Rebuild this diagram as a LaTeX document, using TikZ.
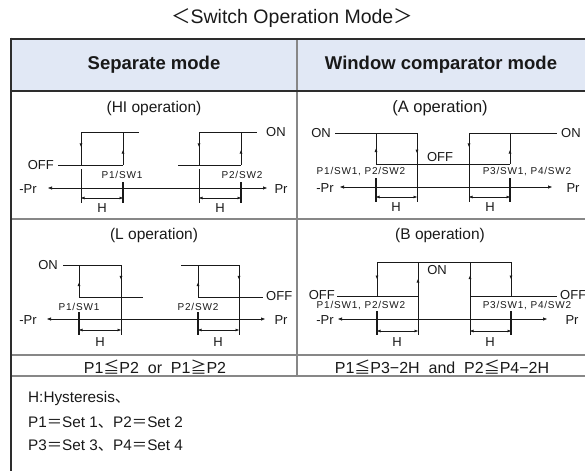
\documentclass[tikz,border=0pt]{standalone}
\usepackage{fontspec}
\setmainfont{Liberation Sans}
\newfontfamily\cjk{Noto Sans CJK KR}
\newfontfamily\lsfont[LetterSpace=8]{Liberation Sans}
\usetikzlibrary{arrows.meta,decorations.markings}
\definecolor{hdr}{RGB}{225,232,245}
\definecolor{ink}{RGB}{25,25,25}
\definecolor{gridc}{RGB}{135,135,135}
\definecolor{framec}{RGB}{45,45,45}
\newcommand{\myfs}[1]{\fontsize{#1}{#1}\selectfont}
\tikzset{
  wire/.style={draw=ink, line width=0.85pt},
  thinl/.style={draw=ink, line width=0.6pt},
  tickl/.style={draw=ink, line width=1.4pt},
  marr/.style={postaction={decorate},decoration={markings,mark=at position #1 with {\arrow[ink]{Triangle[length=3.5pt,width=2.6pt]}}}},
  dimar/.style={draw=ink, line width=0.6pt, {Triangle[length=3.5pt,width=2.6pt]}-{Triangle[length=3.5pt,width=2.6pt]}},
  axisar/.style={draw=ink, line width=0.7pt, {Triangle[length=4pt,width=3pt]}-{Triangle[length=4pt,width=3pt]}},
  lbl/.style={inner sep=0pt, text=ink, font=\myfs{13}},
  plbl/.style={inner sep=0pt, text=ink, font=\lsfont\myfs{10}},
  ttl/.style={inner sep=0pt, text=ink, font=\myfs{15.5}},
  hd/.style={inner sep=0pt, text=ink, font=\bfseries\myfs{18.5}},
  cond/.style={inner sep=0pt, text=ink, font=\myfs{16}, anchor=base},
  note/.style={inner sep=0pt, text=ink, font=\myfs{15.3}, anchor=base west},
  gridl/.style={draw=gridc, line width=1.5pt},
  framel/.style={draw=framec, line width=2.6pt}
}
\begin{document}
\begin{tikzpicture}[x=1pt,y=-1pt]
\useasboundingbox (0,0) rectangle (585,471);
% title
\node[inner sep=0pt, text=ink, font=\myfs{19.5}] (title) at (292,18) {{\cjk ＜}Switch Operation Mode{\cjk ＞}};
% header
\fill[hdr] (11,39) rectangle (585,91);
\node[hd] (h1) at (154,65) {Separate mode};
\node[hd] (h2) at (441,65) {Window comparator mode};
% grid
\draw[gridl] (297,39) -- (297,376);
\draw[gridl] (11,219) -- (585,219);
\draw[gridl] (11,355) -- (585,355);
\draw[gridl] (11,376) -- (585,376);
\draw[framel] (11,39) -- (585,39);
\draw[framel] (11,91) -- (585,91);
\draw[framel] (11,37.7) -- (11,471);

% ---------- HI operation ----------
\node[ttl] (hit) at (154,108) {(HI operation)};
\draw[wire] (58,165) -- (123,165);
\draw[wire] (81,132) -- (139,132);
\draw[wire,marr=0.45] (81,132) -- (81,165);
\draw[wire,marr=0.45] (123,165) -- (123,132);
\draw[wire] (178,165) -- (241,165);
\draw[wire] (199,132) -- (257,132);
\draw[wire,marr=0.45] (199,132) -- (199,165);
\draw[wire,marr=0.45] (241,165) -- (241,132);
\draw[thinl] (81,169) -- (81,203);
\draw[tickl] (123,182) -- (123,203);
\draw[thinl] (199,169) -- (199,203);
\draw[tickl] (241,182) -- (241,203);
\draw[axisar] (48,188) -- (267,188);
\draw[dimar] (81,198) -- (123,198);
\draw[dimar] (199,198) -- (241,198);
\node[lbl,anchor=east] (hioff) at (54,165) {OFF};
\node[lbl,anchor=west] (hion) at (266,132) {ON};
\node[plbl] (hip1) at (122,175) {P1/SW1};
\node[plbl] (hip2) at (242,175) {P2/SW2};
\node[lbl] (hih1) at (102,208) {H};
\node[lbl] (hih2) at (220,208) {H};
\node[lbl] (himp) at (28,189) {-Pr};
\node[lbl] (hipr) at (281,189) {Pr};

% ---------- A operation ----------
\node[ttl,font=\myfs{16.5}] (at) at (440,108) {(A operation)};
\draw[wire] (335,133) -- (417,133);
\draw[wire] (376,164) -- (510,164);
\draw[wire] (469,133) -- (557,133);
\draw[wire,marr=0.5] (376,164) -- (376,133);
\draw[wire,marr=0.65] (417,133) -- (417,164);
\draw[wire,marr=0.45] (469,133) -- (469,164);
\draw[wire,marr=0.45] (510,164) -- (510,133);
\draw[tickl] (376,178) -- (376,202);
\draw[thinl] (417,164) -- (417,202);
\draw[thinl] (469,164) -- (469,202);
\draw[tickl] (510,178) -- (510,202);
\draw[axisar] (340,187) -- (552,187);
\draw[dimar] (376,197) -- (417,197);
\draw[dimar] (469,197) -- (510,197);
\node[lbl,anchor=east] (aon1) at (331,133) {ON};
\node[lbl,anchor=west] (aon2) at (561,133) {ON};
\node[lbl] (aoff) at (440,157) {OFF};
\node[plbl] (ap1) at (361,172) {P1/SW1, P2/SW2};
\node[plbl] (ap2) at (527,172) {P3/SW1, P4/SW2};
\node[lbl] (ah1) at (396,207) {H};
\node[lbl] (ah2) at (490,207) {H};
\node[lbl] (amp) at (325,188) {-Pr};
\node[lbl] (apr) at (573,188) {Pr};

% ---------- L operation ----------
\node[ttl] (lt) at (154,235) {(L operation)};
\draw[wire] (63,265) -- (121,265);
\draw[wire] (79,297) -- (143,297);
\draw[wire,marr=0.45] (79,297) -- (79,265);
\draw[wire,marr=0.45] (121,265) -- (121,297);
\draw[wire] (181,265) -- (239,265);
\draw[wire] (198,297) -- (263,297);
\draw[wire,marr=0.45] (198,297) -- (198,265);
\draw[wire,marr=0.45] (239,265) -- (239,297);
\draw[tickl] (79,312) -- (79,335);
\draw[thinl] (121,297) -- (121,335);
\draw[tickl] (198,312) -- (198,335);
\draw[thinl] (239,297) -- (239,335);
\draw[axisar] (47,319) -- (265,319);
\draw[dimar] (79,330) -- (121,330);
\draw[dimar] (198,330) -- (239,330);
\node[lbl,anchor=east] (lon) at (58,265) {ON};
\node[lbl,anchor=west] (loff) at (266,296) {OFF};
\node[plbl] (lp1) at (79,307) {P1/SW1};
\node[plbl] (lp2) at (198,307) {P2/SW2};
\node[lbl] (lh1) at (100,342) {H};
\node[lbl] (lh2) at (218,342) {H};
\node[lbl] (lmp) at (28,320) {-Pr};
\node[lbl] (lpr) at (281,320) {Pr};

% ---------- B operation ----------
\node[ttl] (bt) at (440,235) {(B operation)};
\draw[wire] (377,262) -- (511,262);
\draw[wire] (337,296) -- (418,296);
\draw[wire] (470,296) -- (557,296);
\draw[wire,marr=0.5] (377,262) -- (377,296);
\draw[wire,marr=0.5] (418,296) -- (418,262);
\draw[wire,marr=0.6] (470,296) -- (470,262);
\draw[wire,marr=0.5] (511,262) -- (511,296);
\draw[tickl] (377,311) -- (377,335);
\draw[thinl] (418,296) -- (418,335);
\draw[thinl] (470,296) -- (470,335);
\draw[tickl] (511,311) -- (511,335);
\draw[axisar] (338,319) -- (547,319);
\draw[dimar] (377,331) -- (418,331);
\draw[dimar] (470,331) -- (511,331);
\node[lbl,anchor=east] (boff1) at (335,295) {OFF};
\node[lbl,anchor=west] (boff2) at (560,295) {OFF};
\node[lbl] (bon) at (437,270) {ON};
\node[plbl] (bp1) at (361,306) {P1/SW1, P2/SW2};
\node[plbl] (bp2) at (527,306) {P3/SW1, P4/SW2};
\node[lbl] (bh1) at (397,342) {H};
\node[lbl] (bh2) at (490,342) {H};
\node[lbl] (bmp) at (325,320) {-Pr};
\node[lbl] (bpr) at (572,320) {Pr};

% ---------- conditions ----------
\node[cond] (c1) at (155,373) {P1{\cjk ≦}P2\ \ or\ \ P1{\cjk ≧}P2};
\node[cond] (c2) at (442,373) {P1{\cjk ≦}P3−2H\ \ and\ \ P2{\cjk ≦}P4−2H};

% ---------- notes ----------
\node[note] (n1) at (28,402) {H:Hysteresis{\cjk 、}};
\node[note] (n2) at (28,427) {P1{\cjk ＝}Set 1{\cjk 、}P2{\cjk ＝}Set 2};
\node[note] (n3) at (28,450) {P3{\cjk ＝}Set 3{\cjk 、}P4{\cjk ＝}Set 4};
\end{tikzpicture}
\end{document}
